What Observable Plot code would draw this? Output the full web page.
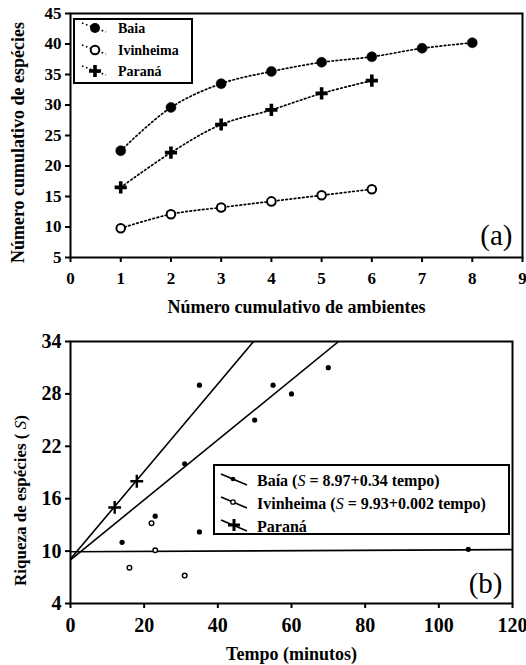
<!DOCTYPE html>
<html>
<head>
<meta charset="utf-8">
<script src="https://cdn.jsdelivr.net/npm/d3@7"></script>
<script src="https://cdn.jsdelivr.net/npm/@observablehq/plot@0.6"></script>
<style>
  body { margin: 0; background: white; }
  #chart { width: 526px; }
  #chart svg { display: block; font-family: "Liberation Serif", "Times New Roman", Times, serif; }
  #chart svg text { font-family: "Liberation Serif", "Times New Roman", Times, serif; }
  #chart svg g[aria-label="x-axis tick label"] text,
  #chart svg g[aria-label="y-axis tick label"] text {
    font-weight: bold !important;
    font-family: "Liberation Serif", "Times New Roman", Times, serif !important;
    font-variant: normal !important;
  }
</style>
</head>
<body>
<div id="chart"></div>
<script>
// ---------- Panel (a) data ----------
const ambientesBaia = [1, 2, 3, 4, 5, 6, 7, 8];
const baiaCum = [22.5, 29.6, 33.5, 35.5, 37.0, 37.9, 39.3, 40.2];
const ambientesIvin = [1, 2, 3, 4, 5, 6];
const ivinCum = [9.8, 12.1, 13.2, 14.2, 15.2, 16.2];
const ambientesParana = [1, 2, 3, 4, 5, 6];
const paranaCum = [16.5, 22.2, 26.8, 29.2, 31.9, 34.0];
const xTicksA = [0, 1, 2, 3, 4, 5, 6, 7, 8, 9];
const yTicksA = [5, 10, 15, 20, 25, 30, 35, 40, 45];
const legendA = ["Baia", "Ivinheima", "Paraná"];
const xLabelA = "Número cumulativo de ambientes";
const yLabelA = "Número cumulativo de espécies";

// ---------- Panel (b) data ----------
const baiaTempo = [14, 23, 31, 35, 35, 50, 55, 60, 70, 108];
const baiaS = [11.0, 14.0, 20.0, 29.0, 12.2, 25.0, 29.0, 28.0, 31.0, 10.2];
const ivinTempo = [16, 22, 23, 31];
const ivinS = [8.1, 13.2, 10.1, 7.2];
const paranaTempo = [12, 18];
const paranaS = [15.0, 18.0];
// fitted lines (end points)
const baiaFitTempo = [0, 72.8];
const baiaFitS = [9.0, 34.0];
const ivinFitTempo = [0, 120];
const ivinFitS = [9.93, 10.17];
const paranaFitTempo = [0, 49.7];
const paranaFitS = [9.1, 34.0];
const xTicksB = [0, 20, 40, 60, 80, 100, 120];
const yTicksB = [4, 10, 16, 22, 28, 34];
const xLabelB = "Tempo (minutos)";
const yLabelB = ["Riqueza de espécies ( ", "S", ")"];
const legendB = [
  ["Baía (", "S", " = 8.97+0.34 tempo)"],
  ["Ivinheima (", "S", " = 9.93+0.002 tempo)"],
  ["Paraná", "", ""]
];

const FONT = '"Liberation Serif", "Times New Roman", Times, serif';

function table(names, xs, ys) {
  return xs.map((x, i) => ({serie: names, x, y: ys[i]}));
}

const topData = [
  ...table("Baia", ambientesBaia, baiaCum),
  ...table("Ivinheima", ambientesIvin, ivinCum),
  ...table("Paraná", ambientesParana, paranaCum)
];

const axisOpts = {tickSize: 5, strokeWidth: 2, label: null, fontWeight: "bold", fontFamily: FONT};

const svgA = Plot.plot({
  width: 526, height: 320,
  marginLeft: 70, marginRight: 4, marginTop: 13, marginBottom: 63,
  style: {fontFamily: FONT, fontWeight: "bold", fontSize: "16px", background: "white", color: "black", overflow: "visible"},
  x: {domain: [0, 9]},
  y: {domain: [5, 45]},
  marks: [
    Plot.axisX(xTicksA, {...axisOpts, tickPadding: 9, fontSize: 17}),
    Plot.axisY(yTicksA, {...axisOpts, tickPadding: 4, fontSize: 17}),
    Plot.line(topData, {x: "x", y: "y", z: "serie", curve: "catmull-rom", stroke: "black", strokeWidth: 1.7, strokeDasharray: "1.6,2.6"}),
    Plot.dot(topData.filter(d => d.serie === "Baia"), {x: "x", y: "y", r: 5, fill: "black", stroke: "black", strokeWidth: 0.5}),
    Plot.dot(topData.filter(d => d.serie === "Ivinheima"), {x: "x", y: "y", r: 4.3, fill: "white", stroke: "black", strokeWidth: 2}),
    Plot.dot(topData.filter(d => d.serie === "Paraná"), {x: "x", y: "y", symbol: "plus", r: 4, stroke: "black", strokeWidth: 3.6}),
    Plot.frame({stroke: "black", strokeWidth: 2}),
    Plot.text(["(a)"], {frameAnchor: "bottom-right", dx: -10, dy: -22, fontSize: 29, fontWeight: "normal", textAnchor: "end", lineAnchor: "middle", fontFamily: FONT}),
    Plot.text([xLabelA], {frameAnchor: "bottom", dy: 50, fontSize: 18, fontWeight: "bold", textAnchor: "middle", lineAnchor: "middle", fontFamily: FONT}),
    Plot.text([yLabelA], {frameAnchor: "left", dx: -52, dy: 7, rotate: -90, fontSize: 18, fontWeight: "bold", textAnchor: "middle", lineAnchor: "middle", fontFamily: FONT})
  ]
});

const bottomPts = [
  ...table("Baía", baiaTempo, baiaS),
  ...table("Ivinheima", ivinTempo, ivinS),
  ...table("Paraná", paranaTempo, paranaS)
];
const fits = [
  ...table("Baía", baiaFitTempo, baiaFitS),
  ...table("Ivinheima", ivinFitTempo, ivinFitS),
  ...table("Paraná", paranaFitTempo, paranaFitS)
];

const svgB = Plot.plot({
  width: 526, height: 345,
  marginLeft: 70, marginRight: 14, marginTop: 21, marginBottom: 62,
  style: {fontFamily: FONT, fontWeight: "bold", fontSize: "18px", background: "white", color: "black", overflow: "visible"},
  x: {domain: [0, 120]},
  y: {domain: [4, 34]},
  marks: [
    Plot.axisX(xTicksB, {...axisOpts, tickPadding: 9, fontSize: 20}),
    Plot.axisY(yTicksB, {...axisOpts, tickPadding: 4, fontSize: 20}),
    Plot.line(fits, {x: "x", y: "y", z: "serie", stroke: "black", strokeWidth: 1.6, clip: true}),
    Plot.dot(bottomPts.filter(d => d.serie === "Baía"), {x: "x", y: "y", r: 2.6, fill: "black"}),
    Plot.dot(bottomPts.filter(d => d.serie === "Ivinheima"), {x: "x", y: "y", r: 2.3, fill: "white", stroke: "black", strokeWidth: 1.4}),
    Plot.dot(bottomPts.filter(d => d.serie === "Paraná"), {x: "x", y: "y", symbol: "plus", r: 4.2, stroke: "black", strokeWidth: 2.4}),
    Plot.frame({stroke: "black", strokeWidth: 2}),
    Plot.text(["(b)"], {frameAnchor: "bottom-right", dx: -10, dy: -20, fontSize: 29, fontWeight: "normal", textAnchor: "end", lineAnchor: "middle", fontFamily: FONT}),
    Plot.text([xLabelB], {frameAnchor: "bottom", dy: 51, fontSize: 18, fontWeight: "bold", textAnchor: "middle", lineAnchor: "middle", fontFamily: FONT}),
    Plot.text([yLabelB.join("")], {frameAnchor: "left", dx: -50, dy: 28, rotate: -90, fontSize: 17, fontWeight: "bold", textAnchor: "middle", lineAnchor: "middle", fontFamily: FONT})
  ]
});

// italic S in the y label of (b)
d3.select(svgB).selectAll("text").filter(function() { return this.textContent === yLabelB.join(""); })
  .each(function() {
    const t = d3.select(this);
    t.text(null);
    t.append("tspan").text(yLabelB[0]);
    t.append("tspan").attr("font-style", "italic").attr("font-weight", "normal").text(yLabelB[1]);
    t.append("tspan").text(yLabelB[2]);
  });

// ---------- legend (a) ----------
{
  const g = d3.select(svgA).append("g").attr("font-family", FONT).attr("font-weight", "bold")
    .attr("font-size", 14).attr("text-anchor", "start");
  g.append("rect").attr("x", 74).attr("y", 19).attr("width", 118).attr("height", 64)
    .attr("fill", "white").attr("stroke", "black").attr("stroke-width", 2);
  const ys = [28, 50, 71];
  legendA.forEach((name, i) => {
    const y = ys[i];
    g.append("line").attr("x1", 82).attr("y1", y - 5).attr("x2", 106).attr("y2", y + 4)
      .attr("stroke", "black").attr("stroke-width", 1.7).attr("stroke-dasharray", "1.6,2.6");
    if (i === 0) g.append("circle").attr("cx", 95).attr("cy", y).attr("r", 5).attr("fill", "black");
    if (i === 1) g.append("circle").attr("cx", 95).attr("cy", y).attr("r", 4.3).attr("fill", "white").attr("stroke", "black").attr("stroke-width", 2);
    if (i === 2) g.append("path").attr("transform", `translate(95,${y})`)
      .attr("d", d3.symbol(d3.symbolPlus, 49)()).attr("fill", "none").attr("stroke", "black").attr("stroke-width", 3.6);
    g.append("text").attr("x", 118).attr("y", y).attr("dy", "0.35em").text(name);
  });
}

// ---------- legend (b) ----------
{
  const g = d3.select(svgB).append("g").attr("font-family", FONT).attr("font-weight", "bold")
    .attr("font-size", 16).attr("text-anchor", "start");
  g.append("rect").attr("x", 214).attr("y", 145).attr("width", 295).attr("height", 69)
    .attr("fill", "white").attr("stroke", "black").attr("stroke-width", 2);
  const ys = [160, 183, 206];
  legendB.forEach((parts, i) => {
    const y = ys[i];
    g.append("line").attr("x1", 221).attr("y1", y - 6).attr("x2", 247).attr("y2", y + 5)
      .attr("stroke", "black").attr("stroke-width", 1.6);
    if (i === 0) g.append("circle").attr("cx", 233).attr("cy", y - 1).attr("r", 2.3).attr("fill", "black");
    if (i === 1) g.append("circle").attr("cx", 233).attr("cy", y - 1).attr("r", 2.2).attr("fill", "white").attr("stroke", "black").attr("stroke-width", 1.3);
    if (i === 2) g.append("path").attr("transform", `translate(234,${y - 1})`)
      .attr("d", d3.symbol(d3.symbolPlus, 49)()).attr("fill", "none").attr("stroke", "black").attr("stroke-width", 3);
    const t = g.append("text").attr("x", 257).attr("y", y).attr("dy", "0.35em");
    t.append("tspan").text(parts[0]);
    if (parts[1]) t.append("tspan").attr("font-style", "italic").attr("font-weight", "normal").text(parts[1]);
    if (parts[2]) t.append("tspan").text(parts[2]);
  });
}

document.getElementById("chart").append(svgA, svgB);
</script>
</body>
</html>
